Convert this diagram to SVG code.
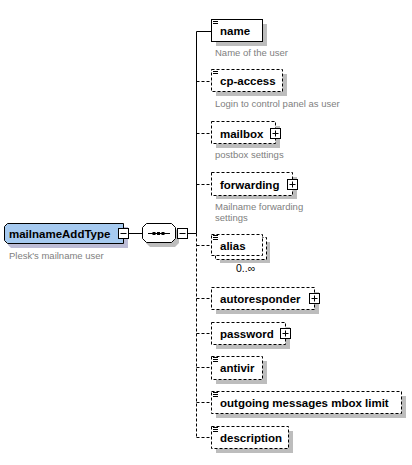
<svg xmlns="http://www.w3.org/2000/svg" width="412" height="465" viewBox="0 0 412 465">
<style>
  .bg{fill:#ffffff}
  .box{fill:#ffffff;stroke:#000;stroke-width:1}
  .opt{stroke-dasharray:3,2}
  .shadow{fill:#bdbdbd}
  .tshadow{fill:#bcbcd6}
  .type{fill:#a6caf0;stroke:#000;stroke-width:1}
  .lbl{font-family:"Liberation Sans",Arial,sans-serif;font-size:11.5px;font-weight:bold;fill:#000}
  .desc{font-family:"Liberation Sans",Arial,sans-serif;font-size:9.5px;fill:#808080}
  .occ{font-family:"Liberation Sans",Arial,sans-serif;font-size:10.5px;fill:#000}
  .ln{fill:none;stroke:#000;stroke-width:1}
  .icon{fill:none;stroke:#000;stroke-width:1}
</style>
<rect class="bg" x="0" y="0" width="412" height="465"/>

<g id="connectors">
  <path class="ln" d="M128,233.5 H142"/>
  <path class="ln" d="M187,233.5 H196.5"/>
  <path class="ln" d="M196.5,31.5 V233.5"/>
  <path class="ln opt" d="M196.5,233.5 V437.5"/>
  <path class="ln" d="M196.5,31.5 H212"/>
  <path class="ln opt" d="M196.5,81.5 H212"/>
  <path class="ln opt" d="M196.5,133.5 H212"/>
  <path class="ln opt" d="M196.5,184.5 H212"/>
  <path class="ln opt" d="M196.5,245.5 H212"/>
  <path class="ln opt" d="M196.5,298.5 H212"/>
  <path class="ln opt" d="M196.5,333.5 H212"/>
  <path class="ln opt" d="M196.5,367.5 H212"/>
  <path class="ln opt" d="M196.5,402.5 H212"/>
  <path class="ln opt" d="M196.5,437.5 H212"/>
</g>

<g id="mailnameAddType">
  <path class="tshadow" d="M11,227 H128 V248 H11 L8,245 V230 Z"/>
  <path class="type" d="M7.5,223.5 H123.5 V243.5 H7.5 L4.5,240.5 V226.5 Z"/>
  <text class="lbl" x="9" y="238">mailnameAddType</text>
  <rect class="box" x="118.5" y="228.5" width="10" height="10"/>
  <path class="ln" d="M120.5,233.5 H126.5"/>
  <text class="desc" x="9" y="259">Plesk's mailname user</text>
</g>

<g id="sequence">
  <path class="shadow" d="M150,228 H175 L179,232 V243 L175,247 H150 L146,243 V232 Z"/>
  <path class="box" d="M146.5,223.5 H171.5 L175.5,227.5 V238.5 L171.5,242.5 H146.5 L142.5,238.5 V227.5 Z"/>
  <path class="ln" d="M148,233.5 H170"/>
  <rect x="152.5" y="232" width="3" height="3" fill="#000"/>
  <rect x="157" y="232" width="3" height="3" fill="#000"/>
  <rect x="161.5" y="232" width="3" height="3" fill="#000"/>
  <rect class="box" x="177.5" y="228.5" width="10" height="10"/>
  <path class="ln" d="M179.5,233.5 H185.5"/>
</g>

<g id="name">
  <rect class="shadow" x="216" y="24" width="51" height="22"/>
  <rect class="box" x="211.5" y="19.5" width="51" height="22"/>
  <path class="icon" d="M213,21.5 H218 M213,23.5 H218"/>
  <text class="lbl" x="220" y="35">name</text>
  <text class="desc" x="215" y="55.5">Name of the user</text>
</g>

<g id="cp-access">
  <rect class="shadow" x="216" y="74" width="71" height="22"/>
  <rect class="box opt" x="211.5" y="69.5" width="71" height="22"/>
  <path class="icon" d="M213,71.5 H218 M213,73.5 H218"/>
  <text class="lbl" x="220" y="85">cp-access</text>
  <text class="desc" x="215" y="106.5">Login to control panel as user</text>
</g>

<g id="mailbox">
  <rect class="shadow" x="216" y="126" width="64" height="22"/>
  <rect class="box opt" x="211.5" y="121.5" width="64" height="22"/>
  <text class="lbl" x="220" y="137.5">mailbox</text>
  <rect class="box" x="270.5" y="128.5" width="10" height="10"/>
  <path class="ln" d="M272.5,133.5 H278.5 M275.5,130.5 V136.5"/>
  <text class="desc" x="215" y="158">postbox settings</text>
</g>

<g id="forwarding">
  <rect class="shadow" x="216" y="177" width="81" height="22"/>
  <rect class="box opt" x="211.5" y="172.5" width="81" height="23"/>
  <text class="lbl" x="220" y="188.5">forwarding</text>
  <rect class="box" x="287.5" y="179.5" width="10" height="10"/>
  <path class="ln" d="M289.5,184.5 H295.5 M292.5,181.5 V187.5"/>
  <text class="desc" x="215" y="210">Mailname forwarding</text>
  <text class="desc" x="215" y="221">settings</text>
</g>

<g id="alias">
  <rect class="shadow" x="220" y="242" width="50" height="21"/>
  <path class="box opt" d="M215.5,237.5 H266.5 V259.5 H215.5 Z"/>
  <rect class="box opt" x="211.5" y="234.5" width="51" height="21"/>
  <path class="icon" d="M213,235.5 H218 M213,237.5 H218 M213,239.5 H218"/>
  <text class="lbl" x="220" y="249.5">alias</text>
  <text class="occ" x="236" y="272">0..∞</text>
</g>

<g id="autoresponder">
  <rect class="shadow" x="216" y="292" width="103" height="22"/>
  <rect class="box opt" x="211.5" y="287.5" width="103" height="22"/>
  <text class="lbl" x="220" y="302.5">autoresponder</text>
  <rect class="box" x="309.5" y="293.5" width="10" height="10"/>
  <path class="ln" d="M311.5,298.5 H317.5 M314.5,295.5 V301.5"/>
</g>

<g id="password">
  <rect class="shadow" x="216" y="327" width="74" height="22"/>
  <rect class="box opt" x="211.5" y="322.5" width="74" height="22"/>
  <text class="lbl" x="220" y="338">password</text>
  <rect class="box" x="280.5" y="328.5" width="10" height="10"/>
  <path class="ln" d="M282.5,333.5 H288.5 M285.5,330.5 V336.5"/>
</g>

<g id="antivir">
  <rect class="shadow" x="216" y="361" width="51" height="23"/>
  <rect class="box opt" x="211.5" y="356.5" width="51" height="23"/>
  <path class="icon" d="M213,357.5 H218 M213,359.5 H218 M213,361.5 H218"/>
  <text class="lbl" x="220" y="372">antivir</text>
</g>

<g id="outgoing-messages-mbox-limit">
  <rect class="shadow" x="216" y="396" width="190" height="22"/>
  <rect class="box opt" x="211.5" y="391.5" width="190" height="22"/>
  <path class="icon" d="M213,392.5 H218 M213,394.5 H218 M213,396.5 H218"/>
  <text class="lbl" x="220" y="407">outgoing messages mbox limit</text>
</g>

<g id="description">
  <rect class="shadow" x="216" y="431" width="77" height="22"/>
  <rect class="box opt" x="211.5" y="426.5" width="77" height="22"/>
  <path class="icon" d="M213,427.5 H218 M213,429.5 H218 M213,431.5 H218"/>
  <text class="lbl" x="220" y="442">description</text>
</g>
</svg>
